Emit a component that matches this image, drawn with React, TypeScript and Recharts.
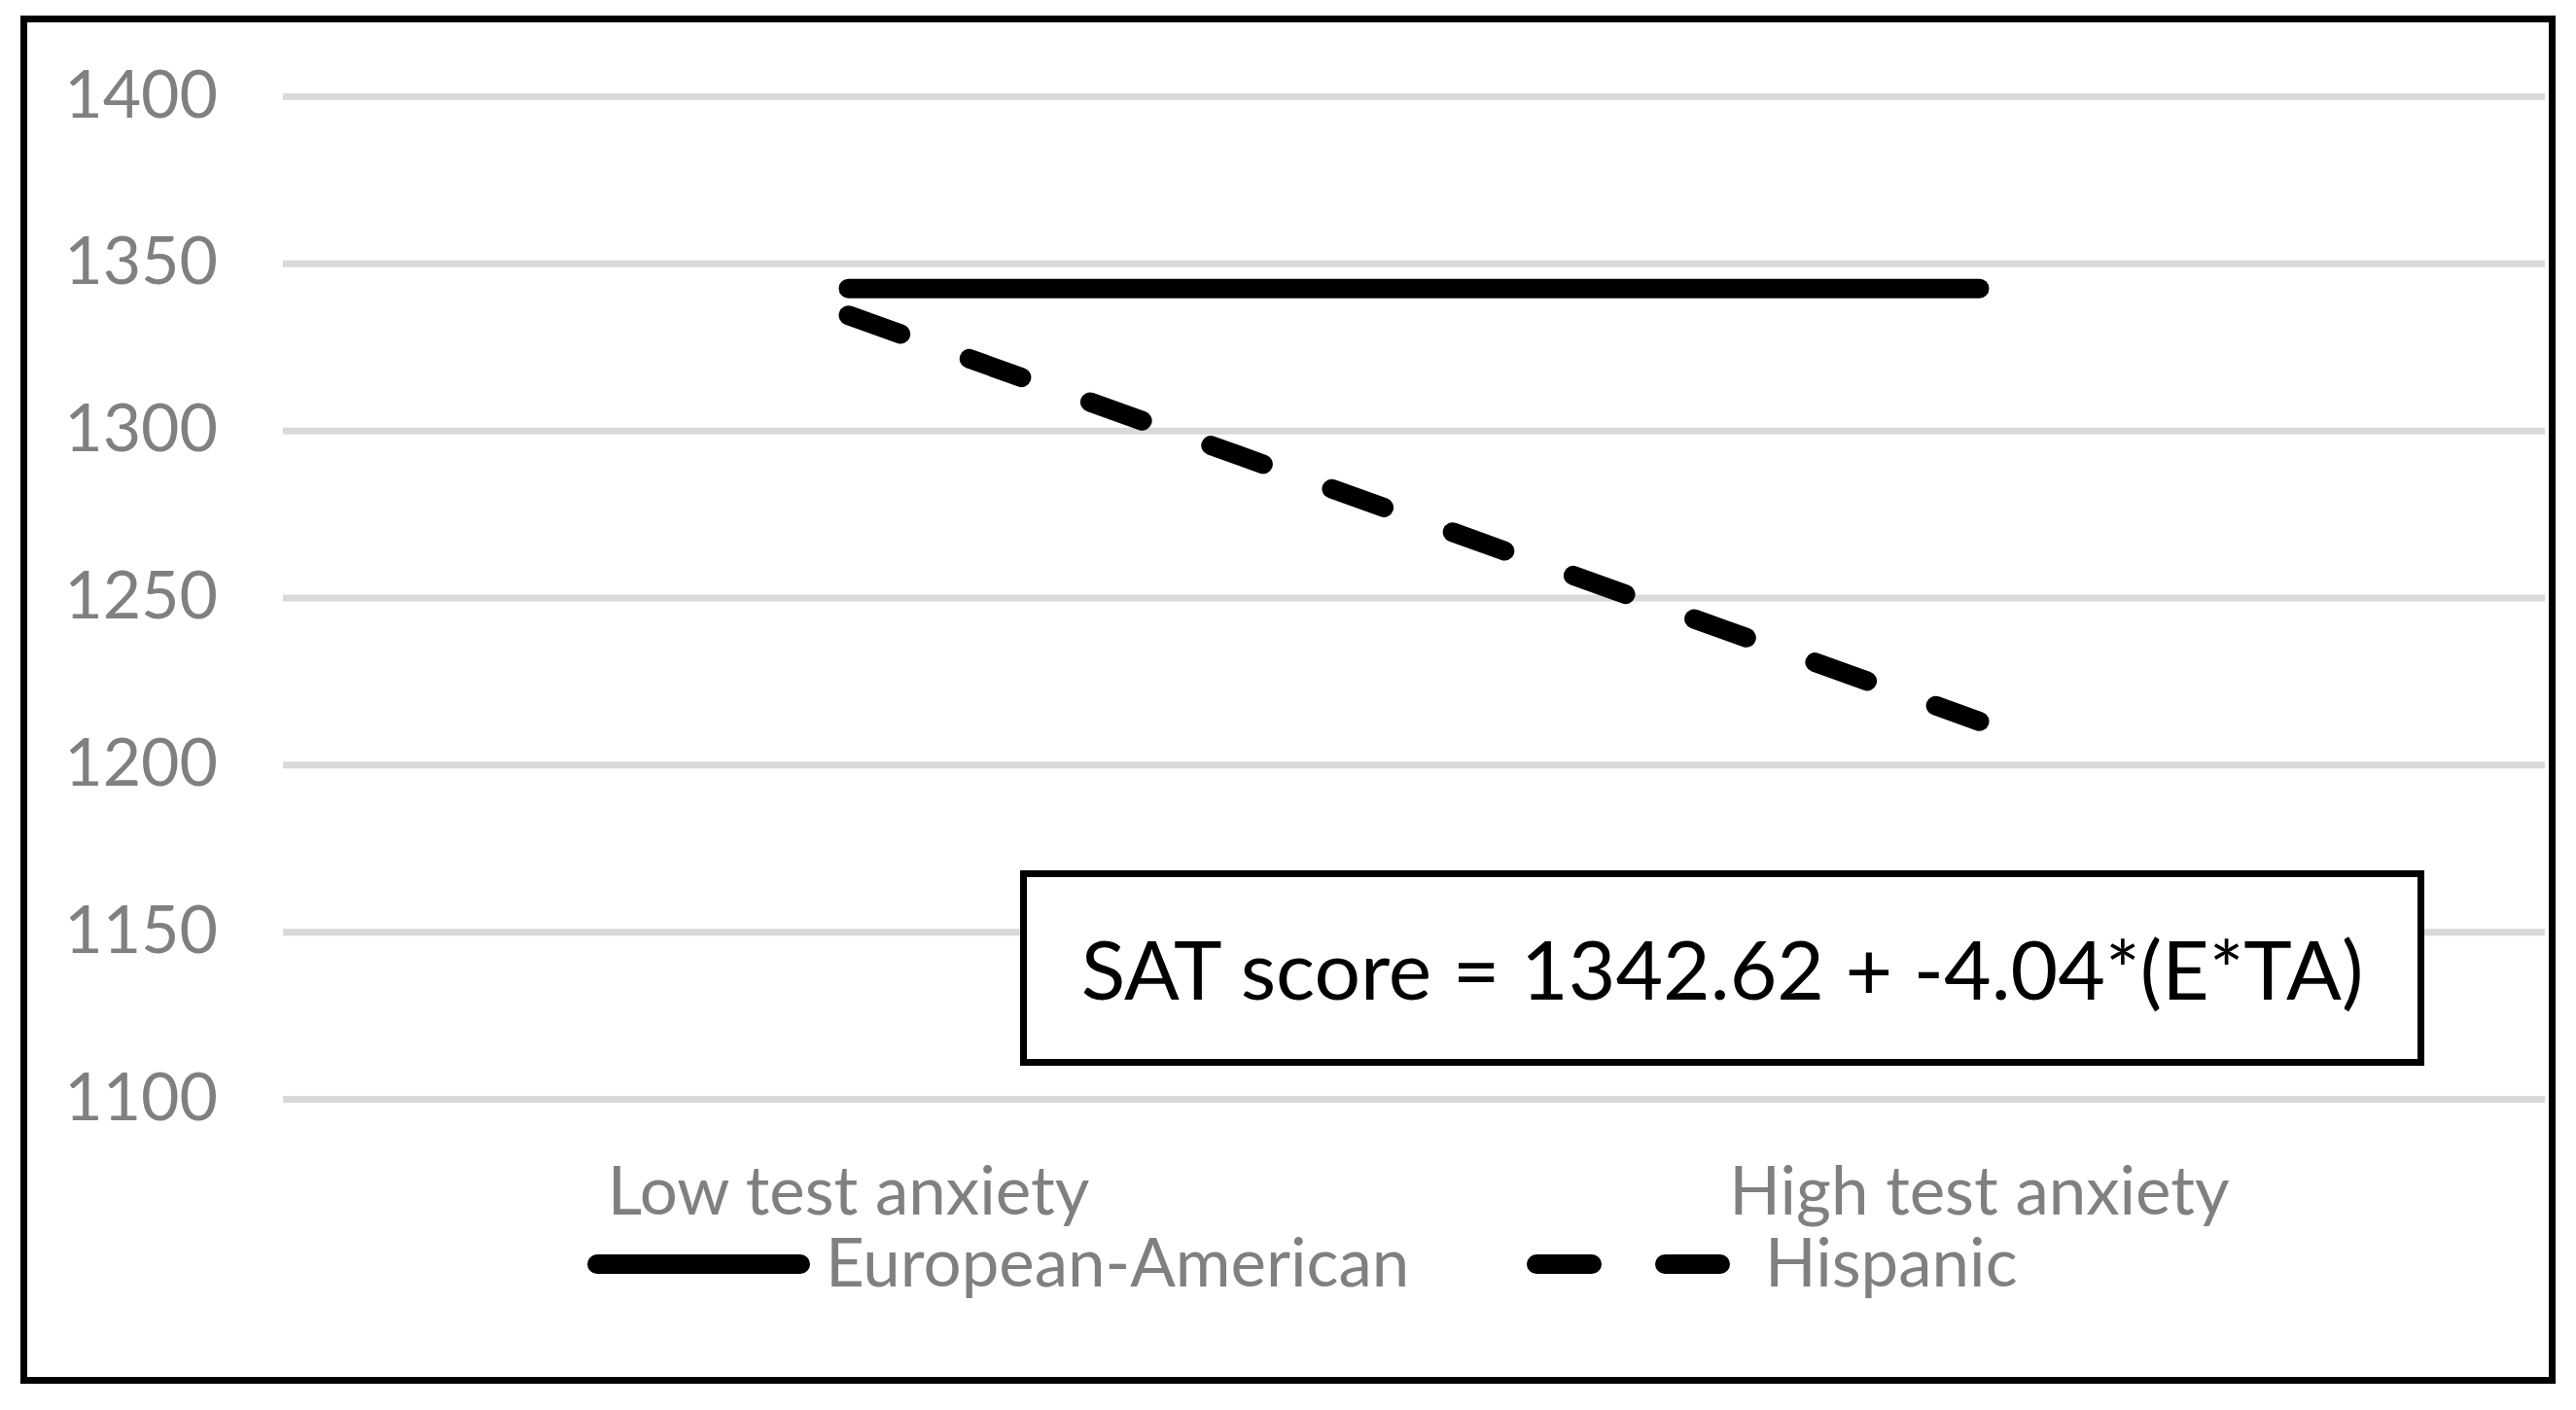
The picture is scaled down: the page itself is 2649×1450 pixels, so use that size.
import React from "react";
import { LineChart, Line, XAxis, YAxis, CartesianGrid, Legend } from "recharts";

const categories = ["Low test anxiety", "High test anxiety"];
const europeanAmerican = [1342.62, 1342.62];
const hispanic = [1334.6, 1213.1];
const yTicks = [1100, 1150, 1200, 1250, 1300, 1350, 1400];
const seriesNames = ["European-American", "Hispanic"];
const equation = "SAT score = 1342.62 + -4.04*(E*TA)";

const data = categories.map((c, i) => ({
  category: c,
  ea: europeanAmerican[i],
  hisp: hispanic[i],
}));

const FONT = "Lato, 'Open Sans', sans-serif";
const GRAY = "#808080";

// legend drawn by hand so the sample lines keep the thick round-capped look
const legendLeft = [604, 1570];

function renderLegend(props: any) {
  const items = props.payload || [];
  return (
    <svg width={2649} height={110} style={{ display: "block", overflow: "visible" }}>
      {items.map((it: any, i: number) => {
        const x0 = legendLeft[i] ?? 604 + i * 966;
        const dash = it.payload?.strokeDasharray;
        return (
          <g key={it.value}>
            <line
              x1={x0 + 10}
              x2={x0 + 219}
              y1={40}
              y2={40}
              stroke={it.color || "#000"}
              strokeWidth={20}
              strokeLinecap="round"
              strokeDasharray={dash}
            />
            <text x={x0 + 245} y={63} fill={GRAY} fontSize={69} fontFamily={FONT}>
              {it.value}
            </text>
          </g>
        );
      })}
    </svg>
  );
}

export default function App() {
  return (
    <div
      style={{
        position: "absolute",
        left: 0,
        top: 0,
        width: 2649,
        height: 1450,
        background: "#fff",
        fontFamily: FONT,
      }}
    >
      <LineChart
        width={2649}
        height={1450}
        data={data}
        margin={{ top: 99.5, right: 32, bottom: 199.5, left: 0 }}
      >
        <CartesianGrid vertical={false} stroke="#d9d9d9" strokeWidth={7} />
        <XAxis
          dataKey="category"
          axisLine={false}
          tickLine={false}
          height={120}
          interval={0}
          padding={{ left: 581.5, right: 581.5 }}
          tickMargin={64}
          tick={{ fill: GRAY, fontSize: 69, fontFamily: FONT }}
        />
        <YAxis
          domain={[1100, 1400]}
          ticks={yTicks}
          axisLine={false}
          tickLine={false}
          width={291}
          tickMargin={61}
          tick={{ fill: GRAY, fontSize: 68, fontFamily: FONT, dy: -3 }}
        />
        <Line
          type="linear"
          dataKey="ea"
          name={seriesNames[0]}
          stroke="#000"
          strokeWidth={20}
          strokeLinecap="round"
          dot={false}
          activeDot={false}
          isAnimationActive={false}
        />
        <Line
          type="linear"
          dataKey="hisp"
          name={seriesNames[1]}
          stroke="#000"
          strokeWidth={20}
          strokeLinecap="round"
          strokeDasharray="57 75"
          dot={false}
          activeDot={false}
          isAnimationActive={false}
        />
        <Legend
          verticalAlign="middle"
          align="center"
          content={renderLegend}
          wrapperStyle={{ top: 1260, left: 0, width: 2649, height: 110 }}
        />
      </LineChart>

      {/* equation box */}
      <div
        style={{
          position: "absolute",
          left: 1049,
          top: 895,
          width: 1444,
          height: 201,
          border: "7px solid #000",
          boxSizing: "border-box",
          display: "flex",
          alignItems: "center",
          justifyContent: "center",
          fontSize: 84,
          color: "#000",
          whiteSpace: "nowrap",
          background: "#fff",
        }}
      >
        {equation}
      </div>

      {/* outer frame */}
      <div
        style={{
          position: "absolute",
          left: 21,
          top: 16,
          width: 2607,
          height: 1407,
          border: "7px solid #000",
          boxSizing: "border-box",
          pointerEvents: "none",
        }}
      />
    </div>
  );
}
